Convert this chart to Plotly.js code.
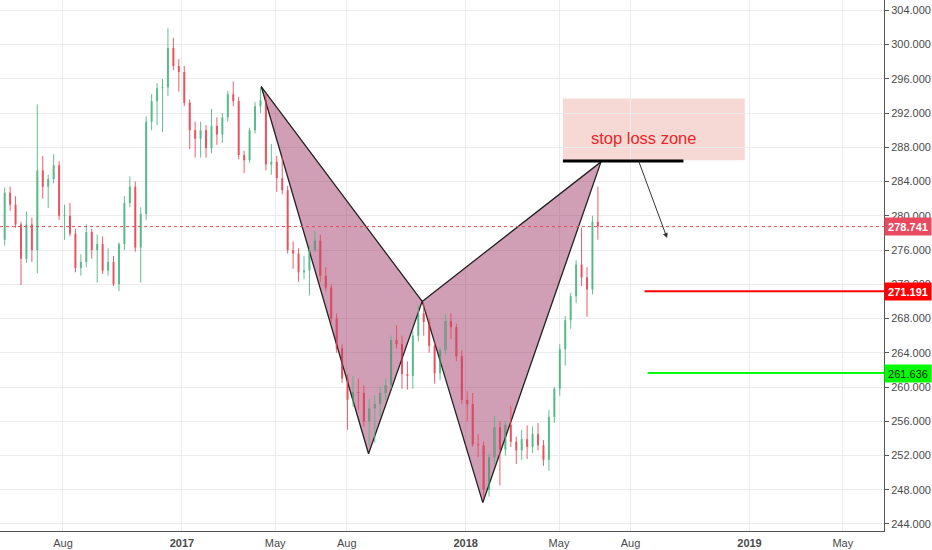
<!DOCTYPE html>
<html>
<head>
<meta charset="utf-8">
<script src="https://cdn.plot.ly/plotly-3.0.1.min.js"></script>
<style>
html,body{margin:0;padding:0;background:#fff;}
#chart{width:932px;height:550px;}
</style>
</head>
<body>
<div id="chart"></div>
<script>
// Weekly candles
const dates = [
"2016-05-18","2016-05-25","2016-06-01","2016-06-08","2016-06-15","2016-06-22","2016-06-29","2016-07-06","2016-07-13","2016-07-20",
"2016-07-27","2016-08-03","2016-08-10","2016-08-17","2016-08-24","2016-08-31","2016-09-07","2016-09-14","2016-09-21","2016-09-28",
"2016-10-05","2016-10-12","2016-10-19","2016-10-26","2016-11-02","2016-11-09","2016-11-16","2016-11-23","2016-11-30","2016-12-07",
"2016-12-14","2016-12-21","2016-12-28","2017-01-04","2017-01-11","2017-01-18","2017-01-25","2017-02-01","2017-02-08","2017-02-15",
"2017-02-22","2017-03-01","2017-03-08","2017-03-15","2017-03-22","2017-03-29","2017-04-05","2017-04-12","2017-04-19","2017-04-26",
"2017-05-03","2017-05-10","2017-05-17","2017-05-24","2017-05-31","2017-06-07","2017-06-14","2017-06-21","2017-06-28","2017-07-05",
"2017-07-12","2017-07-19","2017-07-26","2017-08-02","2017-08-09","2017-08-16","2017-08-23","2017-08-30","2017-09-06","2017-09-13",
"2017-09-20","2017-09-27","2017-10-04","2017-10-11","2017-10-18","2017-10-25","2017-11-01","2017-11-08","2017-11-15","2017-11-22",
"2017-11-29","2017-12-06","2017-12-13","2017-12-20","2017-12-27","2018-01-03","2018-01-10","2018-01-17","2018-01-24","2018-01-31",
"2018-02-07","2018-02-14","2018-02-21","2018-02-28","2018-03-07","2018-03-14","2018-03-21","2018-03-28","2018-04-04","2018-04-11",
"2018-04-18","2018-04-25","2018-05-02","2018-05-09","2018-05-16","2018-05-23","2018-05-30","2018-06-06","2018-06-13","2018-06-20"
];
const openP = [
277.2,282.7,281.3,279.0,275.0,279.0,276.0,285.3,283.4,284.3,
285.9,280.0,280.0,277.9,273.9,274.6,278.1,276.0,276.7,273.6,
274.6,272.0,276.7,281.5,283.4,276.3,280.2,291.0,293.4,294.9,
295.0,299.6,297.5,296.8,293.2,290.0,289.0,290.0,287.9,290.5,
289.5,291.5,294.2,293.4,287.1,286.5,290.0,292.8,293.5,286.0,
286.3,284.4,283.0,276.0,275.6,273.4,273.6,276.0,277.1,273.0,
271.6,268.0,264.5,261.0,258.5,259.4,259.3,256.0,257.5,258.0,
259.3,260.2,265.5,265.0,261.5,261.3,266.0,268.6,267.6,264.8,
261.6,264.3,267.7,267.0,263.6,258.5,258.0,253.3,253.2,248.0,
251.8,255.3,252.7,255.6,253.6,252.6,253.9,253.0,254.5,253.2,
251.5,256.5,259.8,264.4,267.8,270.6,274.3,272.8,271.4,279.3
];
const highP = [
283.3,283.4,282.3,279.3,280.5,279.8,293.0,287.0,284.8,287.2,
286.4,281.3,281.5,278.5,275.5,279.0,278.5,277.8,277.6,276.2,
275.3,276.9,282.3,284.6,284.0,281.0,291.6,294.2,295.5,296.0,
301.9,300.8,298.3,297.5,293.6,291.0,291.0,290.6,292.5,291.5,
292.0,294.6,295.7,293.9,287.6,290.3,293.3,295.0,294.2,288.4,
287.0,287.0,283.5,277.0,276.2,275.3,276.5,278.2,277.8,274.0,
272.0,268.6,265.0,261.5,261.3,261.0,260.2,258.6,259.0,260.0,
261.0,266.0,267.2,266.0,263.0,266.5,269.6,269.8,268.0,265.2,
264.6,268.5,268.6,267.4,264.3,259.5,259.3,254.5,253.6,252.2,
256.6,256.0,256.0,257.8,254.2,255.0,255.5,255.4,255.8,253.8,
257.3,260.0,265.0,268.3,271.0,274.8,278.6,274.0,280.0,283.4
];
const lowP = [
276.5,280.6,278.6,271.9,274.5,274.6,273.3,282.0,280.9,283.8,
279.5,277.2,277.6,273.4,273.0,274.0,275.0,272.2,273.2,273.0,
271.8,271.2,276.0,281.0,275.8,272.2,279.5,290.0,290.6,289.8,
294.0,297.0,294.5,292.8,287.8,286.8,286.8,286.8,287.3,288.3,
288.5,291.0,292.8,286.6,285.0,286.2,289.6,292.0,285.3,284.8,
282.8,282.5,275.6,273.8,272.3,272.6,270.7,275.8,272.3,271.2,
267.5,264.0,260.5,255.0,257.7,257.3,255.4,253.2,253.5,256.5,
258.5,259.8,264.5,259.8,259.7,259.8,265.3,266.0,264.0,260.4,
260.8,263.8,265.6,263.0,258.0,256.0,253.0,251.8,247.0,247.2,
251.0,248.5,252.0,253.0,251.0,251.5,251.6,252.3,252.6,250.8,
250.2,255.8,259.0,262.5,266.8,269.8,271.8,268.2,270.8,277.2
];
const closeP = [
282.7,281.3,279.0,275.0,279.0,276.0,285.3,283.4,284.3,285.9,
280.0,280.0,277.9,273.9,274.6,278.1,276.0,276.7,273.6,274.6,
272.0,276.7,281.5,283.4,276.3,280.2,291.0,293.4,294.9,295.0,
299.6,297.5,296.8,293.2,290.0,289.0,290.0,287.9,290.5,289.5,
291.5,294.2,293.4,287.1,286.5,290.0,292.8,293.5,286.0,286.3,
284.4,283.0,276.0,275.6,273.4,273.6,276.0,277.1,273.0,271.6,
268.0,264.5,261.0,258.5,259.4,259.3,256.0,257.5,258.0,259.3,
260.2,265.5,265.0,261.5,261.3,266.0,268.6,267.6,264.8,261.6,
264.3,267.7,267.0,263.6,258.5,258.0,253.3,253.2,248.0,251.8,
255.3,252.7,255.6,253.6,252.6,253.9,253.0,254.5,253.2,251.5,
256.5,259.8,264.4,267.8,270.6,274.3,272.8,271.4,279.3,278.741
];

// Harmonic pattern vertices
const patDates1 = ["2017-04-13","2017-08-29","2017-11-06","2017-04-13"];
const patPrices1 = [295.1, 252.2, 270.0, 295.1];
const patDates2 = ["2017-11-06","2018-01-23","2018-06-24","2017-11-06"];
const patPrices2 = [270.0, 246.5, 286.3, 270.0];

// Levels
const lastPrice = 278.741;
const level1 = 271.191;
const level2 = 261.636;
const level1Start = "2018-08-19";
const level2Start = "2018-08-23";
const axisEnd = "2019-06-23";

// Stop loss zone
const zoneX = ["2018-05-06","2018-12-26"];
const zoneY = [286.5, 293.7];
const zoneLineX = ["2018-05-06","2018-10-08"];
const zoneLineY = 286.4;
const zoneText = "stop loss zone";
const zoneTextPos = ["2018-08-18", 289.1];
const arrowFrom = ["2018-08-11", 286.5];
const arrowTo = ["2018-09-17", 277.4];

// Axis ticks
const tickDates = ["2016-08-01","2017-01-01","2017-05-01","2017-08-01","2018-01-01","2018-05-01","2018-08-01","2019-01-01","2019-05-01"];
const tickText = ["Aug","<b>2017</b>","May","Aug","<b>2018</b>","May","Aug","<b>2019</b>","May"];

const UP = "#53b987", DOWN = "#eb4d5c";
const DAY = 86400000;

// candle bodies as bars, wicks as line segments (built from the OHLC arrays)
const bodyBase = [], bodyLen = [], bodyCol = [];
const wickUpX = [], wickUpY = [], wickDnX = [], wickDnY = [];
for (let i = 0; i < dates.length; i++) {
  const o = openP[i], c = closeP[i];
  bodyBase.push(Math.min(o, c));
  bodyLen.push(Math.max(Math.abs(c - o), 0.12));
  const up = c >= o;
  bodyCol.push(up ? UP : DOWN);
  const wx = up ? wickUpX : wickDnX, wy = up ? wickUpY : wickDnY;
  wx.push(dates[i], dates[i], null);
  wy.push(lowP[i], highP[i], null);
}

const traces = [
  {
    type: "scatter", mode: "lines", x: patDates1, y: patPrices1,
    fill: "toself", fillcolor: "rgba(150,40,90,0.45)",
    line: {color: "#222", width: 1.3}, hoverinfo: "skip", showlegend: false
  },
  {
    type: "scatter", mode: "lines", x: patDates2, y: patPrices2,
    fill: "toself", fillcolor: "rgba(150,40,90,0.45)",
    line: {color: "#222", width: 1.3}, hoverinfo: "skip", showlegend: false
  },
  {
    type: "scatter", mode: "lines", x: wickUpX, y: wickUpY, connectgaps: false,
    line: {color: UP, width: 1}, opacity: 0.9, hoverinfo: "skip", showlegend: false
  },
  {
    type: "scatter", mode: "lines", x: wickDnX, y: wickDnY, connectgaps: false,
    line: {color: DOWN, width: 1}, opacity: 0.9, hoverinfo: "skip", showlegend: false
  },
  {
    type: "bar", x: dates, y: bodyLen, base: bodyBase, width: 2.6 * DAY,
    marker: {color: bodyCol, line: {width: 0}}, opacity: 0.9,
    hoverinfo: "skip", showlegend: false
  },
  {
    type: "scatter", mode: "lines", x: [level1Start, axisEnd], y: [level1, level1],
    line: {color: "#ff0000", width: 2}, hoverinfo: "skip", showlegend: false
  },
  {
    type: "scatter", mode: "lines", x: [level2Start, axisEnd], y: [level2, level2],
    line: {color: "#00ff00", width: 2}, hoverinfo: "skip", showlegend: false
  },
  {
    type: "scatter", mode: "lines", x: zoneLineX, y: [zoneLineY, zoneLineY],
    line: {color: "#000000", width: 3}, hoverinfo: "skip", showlegend: false
  }
];

const layout = {
  width: 932, height: 550,
  margin: {l: 0, r: 48, t: 0, b: 19},
  paper_bgcolor: "#ffffff", plot_bgcolor: "#ffffff",
  font: {family: "Liberation Sans, Arial, sans-serif", size: 11, color: "#4a4a4a"},
  showlegend: false,
  barmode: "overlay",
  xaxis: {
    type: "date",
    range: ["2016-05-12", axisEnd],
    tickvals: tickDates, ticktext: tickText,
    showgrid: true, gridcolor: "#ececec", gridwidth: 1,
    showline: true, linecolor: "#555", linewidth: 1,
    ticks: "", ticklabelstandoff: 2,
    fixedrange: true,
    tickfont: {size: 11, color: "#4a4a4a"}
  },
  yaxis: {
    side: "right",
    range: [243.18, 305.21],
    dtick: 4, tick0: 244,
    tickformat: ".3f",
    showgrid: true, gridcolor: "#ececec", gridwidth: 1,
    showline: true, linecolor: "#555", linewidth: 1,
    ticks: "outside", ticklen: 4, tickcolor: "#555",
    zeroline: false,
    tickfont: {size: 11, color: "#4a4a4a"}
  },
  shapes: [
    {type: "rect", xref: "x", yref: "y", x0: zoneX[0], x1: zoneX[1], y0: zoneY[0], y1: zoneY[1],
     fillcolor: "rgba(236,170,160,0.45)", line: {width: 0}, layer: "below"},
    {type: "line", xref: "paper", yref: "y", x0: 0, x1: 1, y0: lastPrice, y1: lastPrice,
     line: {color: "#e84a5f", width: 1, dash: "dot"}, layer: "above"}
  ],
  annotations: [
    {xref: "x", yref: "y", x: zoneTextPos[0], y: zoneTextPos[1], text: zoneText, showarrow: false,
     font: {size: 16.5, color: "#e8262a", family: "Liberation Sans, Arial, sans-serif"}},
    {xref: "x", yref: "y", x: arrowTo[0], y: arrowTo[1], axref: "x", ayref: "y",
     ax: arrowFrom[0], ay: arrowFrom[1], text: "", showarrow: true,
     arrowhead: 2, arrowsize: 1, arrowwidth: 1, arrowcolor: "#333"},
    {xref: "paper", yref: "y", x: 1, y: lastPrice, xanchor: "left", yanchor: "middle",
     text: "<b>" + lastPrice.toFixed(3) + "</b>", showarrow: false, bgcolor: "#e84a5f",
     font: {color: "#ffffff", size: 11}, width: 44, height: 15, borderpad: 1},
    {xref: "paper", yref: "y", x: 1, y: level1, xanchor: "left", yanchor: "middle",
     text: "<b>" + level1.toFixed(3) + "</b>", showarrow: false, bgcolor: "#ff0000",
     font: {color: "#ffffff", size: 11}, width: 44, height: 15, borderpad: 1},
    {xref: "paper", yref: "y", x: 1, y: level2, xanchor: "left", yanchor: "middle",
     text: level2.toFixed(3), showarrow: false, bgcolor: "#00ff00",
     font: {color: "#222222", size: 11}, width: 44, height: 15, borderpad: 1}
  ]
};

Plotly.newPlot("chart", traces, layout, {displayModeBar: false, staticPlot: true});
</script>
</body>
</html>
